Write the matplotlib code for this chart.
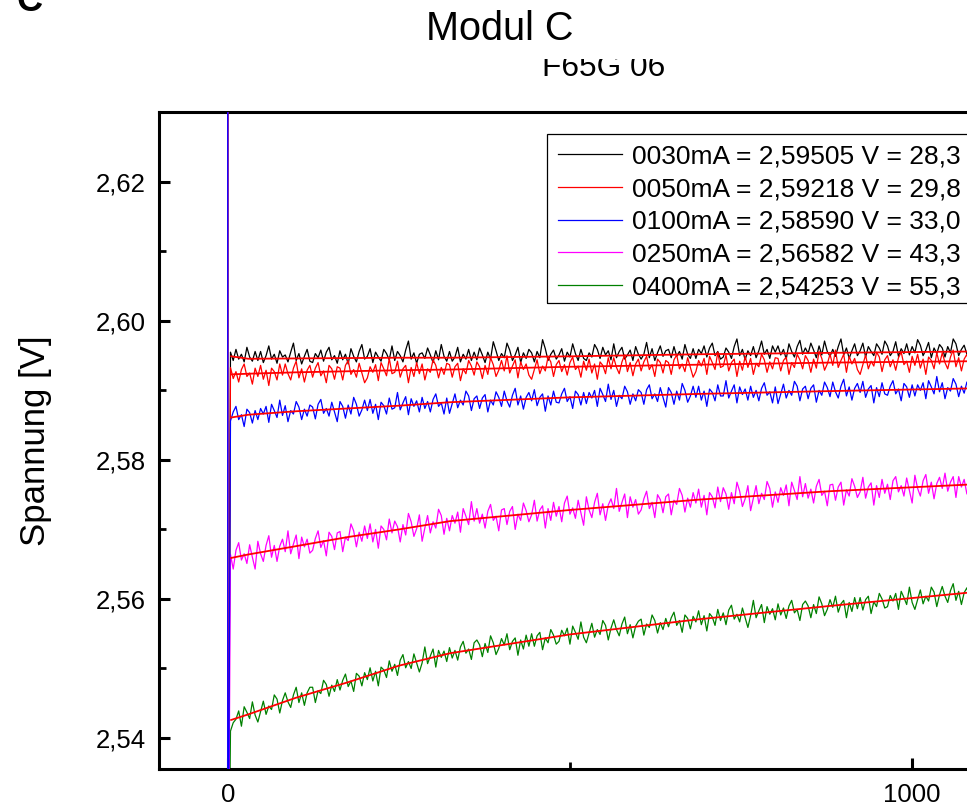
import numpy as np
import matplotlib
matplotlib.use("Agg")
import matplotlib.pyplot as plt
from matplotlib.patches import Rectangle
from matplotlib.transforms import Bbox, TransformedBbox
from matplotlib.ticker import MultipleLocator, FuncFormatter

plt.rcParams['font.family'] = ['Liberation Sans', 'DejaVu Sans']

# sample times of the traces [s]: 4, 8, 12, ... 1092
t_first, t_step = 4, 4

# readings in units of 0.1 mV above 2.5 V
v_0030 = [955, 943, 959, 945, 952, 941, 962, 948, 942, 956,
          943, 956, 940, 950, 964, 945, 952, 939, 957, 948,
          951, 941, 955, 968, 943, 953, 938, 949, 959, 942,
          940, 953, 947, 958, 942, 955, 962, 944, 950, 939,
          957, 944, 952, 938, 960, 949, 941, 956, 966, 945,
          949, 960, 940, 955, 948, 942, 959, 953, 944, 964,
          943, 956, 950, 941, 958, 971, 945, 954, 939, 952,
          954, 946, 961, 951, 940, 957, 944, 966, 949, 942,
          956, 942, 948, 962, 941, 952, 945, 959, 943, 955,
          944, 961, 951, 940, 955, 945, 970, 957, 943, 953,
          947, 968, 958, 943, 951, 962, 940, 954, 946, 959,
          954, 941, 956, 947, 973, 960, 943, 952, 958, 945,
          951, 960, 942, 955, 948, 967, 953, 943, 959, 946,
          943, 954, 948, 966, 959, 946, 962, 951, 957, 944,
          967, 947, 956, 962, 945, 951, 958, 943, 963, 952,
          945, 952, 969, 947, 960, 943, 954, 964, 949, 957,
          959, 947, 963, 949, 956, 945, 966, 952, 946, 960,
          946, 959, 953, 964, 948, 961, 968, 950, 956, 945,
          948, 961, 955, 946, 963, 974, 950, 959, 944, 957,
          950, 963, 947, 957, 971, 952, 959, 946, 964, 955,
          964, 951, 959, 945, 967, 956, 948, 963, 972, 952,
          961, 953, 968, 958, 947, 964, 951, 971, 956, 949,
          959, 949, 963, 974, 951, 961, 946, 957, 967, 950,
          957, 968, 948, 963, 956, 950, 967, 961, 952, 971,
          964, 950, 956, 970, 949, 960, 953, 967, 951, 963,
          954, 973, 965, 950, 958, 969, 947, 961, 953, 966,
          961, 948, 963, 954, 974, 967, 950, 959, 965, 952,
          962, 954, 966]
v_0050 = [933, 917, 927, 912, 930, 938, 920, 925, 909, 932,
          920, 936, 916, 929, 907, 932, 927, 915, 938, 922,
          938, 924, 915, 932, 942, 918, 931, 912, 929, 936,
          919, 932, 940, 921, 928, 911, 936, 931, 916, 934,
          932, 915, 936, 943, 923, 930, 919, 939, 925, 911,
          918, 934, 926, 937, 914, 940, 931, 921, 946, 924,
          926, 942, 919, 931, 936, 911, 933, 920, 940, 924,
          938, 915, 931, 926, 944, 936, 918, 933, 923, 939,
          937, 919, 934, 939, 914, 931, 924, 943, 935, 922,
          941, 934, 917, 936, 923, 947, 937, 920, 929, 943,
          928, 950, 925, 935, 944, 918, 941, 930, 938, 922,
          916, 930, 944, 924, 935, 928, 948, 941, 920, 937,
          943, 927, 937, 922, 940, 948, 930, 935, 919, 942,
          929, 945, 925, 938, 916, 941, 936, 924, 947, 931,
          947, 933, 924, 941, 951, 927, 940, 921, 938, 945,
          928, 941, 949, 930, 937, 920, 945, 940, 925, 943,
          940, 923, 944, 951, 931, 938, 927, 947, 933, 919,
          927, 943, 935, 946, 923, 949, 940, 930, 955, 933,
          935, 951, 928, 940, 945, 920, 942, 929, 949, 933,
          946, 923, 939, 934, 952, 944, 926, 941, 931, 947,
          946, 928, 943, 948, 923, 940, 933, 952, 944, 931,
          950, 943, 926, 945, 932, 956, 946, 929, 938, 952,
          936, 958, 933, 943, 952, 926, 949, 938, 946, 930,
          923, 937, 951, 931, 942, 935, 955, 948, 927, 944,
          950, 934, 944, 929, 947, 955, 937, 942, 926, 949,
          936, 952, 932, 945, 923, 948, 943, 931, 954, 938,
          954, 940, 931, 948, 958, 934, 947, 928, 945, 952,
          935, 949, 939]
v_0100 = [856, 869, 877, 858, 865, 848, 873, 868, 853, 871,
          858, 874, 866, 877, 854, 880, 871, 861, 886, 864,
          878, 855, 871, 866, 884, 876, 858, 873, 863, 879,
          876, 859, 880, 887, 867, 874, 863, 883, 869, 855,
          884, 877, 860, 879, 866, 890, 880, 863, 872, 886,
          871, 887, 867, 880, 858, 883, 878, 866, 889, 873,
          875, 897, 872, 882, 891, 865, 888, 877, 885, 869,
          890, 874, 884, 869, 887, 895, 877, 882, 866, 889,
          867, 881, 895, 875, 886, 879, 899, 892, 871, 888,
          892, 874, 889, 894, 869, 886, 879, 898, 890, 877,
          899, 885, 876, 893, 903, 879, 892, 873, 890, 897,
          885, 901, 878, 890, 895, 870, 892, 879, 899, 883,
          882, 895, 903, 884, 891, 874, 899, 894, 879, 897,
          881, 897, 889, 900, 877, 903, 894, 884, 909, 887,
          900, 877, 893, 888, 906, 898, 880, 895, 885, 901,
          897, 880, 901, 908, 888, 895, 884, 904, 890, 876,
          904, 897, 880, 899, 886, 910, 900, 883, 892, 906,
          890, 906, 886, 899, 877, 902, 897, 885, 908, 892,
          892, 914, 889, 899, 908, 882, 905, 894, 902, 886,
          906, 890, 900, 885, 903, 911, 893, 898, 882, 905,
          881, 895, 909, 889, 900, 893, 913, 906, 885, 902,
          906, 888, 903, 908, 883, 900, 893, 912, 904, 891,
          912, 898, 889, 906, 916, 892, 905, 886, 903, 910,
          897, 913, 890, 902, 907, 882, 904, 891, 911, 895,
          893, 906, 914, 895, 902, 885, 910, 905, 890, 908,
          892, 908, 900, 911, 888, 914, 905, 895, 920, 898,
          911, 888, 904, 899, 917, 909, 891, 906, 896, 912,
          898, 909, 901]
v_0250 = [664, 643, 670, 681, 656, 665, 651, 678, 660, 643,
          683, 665, 654, 677, 691, 660, 677, 654, 676, 686,
          668, 698, 665, 679, 692, 658, 689, 675, 686, 666,
          670, 687, 698, 674, 684, 662, 696, 690, 671, 695,
          697, 668, 689, 684, 708, 698, 675, 696, 683, 705,
          687, 708, 682, 700, 673, 705, 700, 685, 715, 695,
          712, 704, 682, 707, 692, 723, 711, 690, 701, 721,
          683, 702, 720, 695, 711, 702, 729, 720, 693, 716,
          698, 720, 709, 725, 696, 730, 719, 707, 740, 712,
          730, 709, 722, 702, 726, 736, 713, 719, 698, 728,
          730, 707, 726, 733, 700, 722, 713, 738, 727, 711,
          721, 742, 712, 728, 734, 702, 730, 713, 739, 719,
          733, 711, 738, 748, 722, 731, 716, 742, 724, 706,
          747, 728, 717, 739, 752, 721, 737, 713, 735, 744,
          730, 759, 726, 739, 751, 717, 747, 732, 743, 722,
          728, 744, 755, 730, 739, 717, 750, 743, 724, 747,
          751, 721, 742, 736, 759, 749, 725, 745, 732, 753,
          738, 758, 732, 749, 721, 753, 747, 731, 761, 740,
          760, 751, 729, 753, 737, 768, 755, 733, 744, 763,
          727, 745, 763, 737, 752, 743, 769, 759, 732, 754,
          739, 760, 749, 764, 734, 768, 756, 743, 776, 747,
          766, 745, 758, 738, 762, 772, 749, 755, 734, 764,
          765, 742, 761, 768, 735, 757, 748, 773, 762, 746,
          754, 775, 745, 761, 767, 735, 763, 746, 772, 752,
          765, 743, 770, 776, 754, 763, 748, 774, 756, 738,
          778, 759, 748, 770, 779, 752, 768, 744, 766, 775,
          759, 781, 755, 768, 776, 746, 776, 761, 772, 751,
          770, 758, 773]
v_0400 = [410, 422, 427, 439, 417, 445, 437, 428, 452, 433,
          423, 438, 453, 434, 446, 441, 462, 456, 436, 454,
          465, 452, 444, 462, 473, 451, 465, 447, 465, 473,
          473, 451, 468, 464, 483, 477, 460, 476, 467, 484,
          469, 483, 492, 474, 482, 467, 493, 489, 475, 494,
          484, 501, 482, 496, 475, 502, 498, 487, 511, 496,
          506, 490, 512, 520, 501, 510, 500, 521, 508, 495,
          508, 531, 507, 518, 528, 502, 526, 516, 525, 510,
          530, 515, 526, 512, 531, 539, 522, 528, 513, 537,
          541, 534, 517, 536, 523, 547, 537, 520, 529, 543,
          534, 550, 527, 539, 544, 519, 541, 528, 548, 532,
          550, 532, 547, 552, 527, 544, 537, 556, 548, 535,
          539, 555, 547, 558, 535, 561, 552, 542, 567, 545,
          537, 551, 565, 545, 556, 549, 569, 562, 541, 558,
          570, 556, 547, 564, 574, 550, 563, 544, 561, 568,
          571, 548, 564, 559, 577, 569, 551, 566, 556, 572,
          560, 573, 581, 562, 569, 552, 577, 572, 557, 575,
          567, 583, 563, 576, 554, 579, 574, 562, 585, 569,
          580, 563, 584, 591, 571, 578, 567, 587, 573, 559,
          576, 598, 573, 583, 592, 566, 589, 578, 586, 570,
          593, 577, 587, 572, 590, 598, 580, 585, 569, 592,
          597, 590, 573, 592, 579, 603, 593, 576, 585, 599,
          588, 604, 581, 593, 598, 573, 595, 582, 602, 586,
          602, 584, 599, 604, 579, 596, 589, 608, 600, 587,
          589, 605, 597, 608, 585, 611, 602, 592, 617, 595,
          585, 599, 613, 593, 604, 597, 617, 610, 589, 606,
          618, 604, 595, 612, 622, 598, 611, 592, 609, 616,
          602, 614, 606]

# switch-on transient at t = 0 (leaves the plotted range) [V]
spike_v = [2.70, 2.50]

# fitted curves (red), same units
fit_t = [5, 30, 100, 175, 250, 325, 500, 690, 880, 1092]
fit_0030 = [949, 945.5, 946, 946.5, 947, 947, 949, 952, 954, 956]
fit_0050 = [923, 924, 926, 927.5, 929, 930, 934, 937, 940, 942]
fit_0100 = [861, 865, 870, 874, 878, 883, 890, 895, 899, 903]
fit_0250 = [659, 664, 676, 689, 700, 712, 728, 743, 755, 765]
fit_0400 = [426, 434, 458, 480, 504, 522, 549, 571, 590, 610]

labels = ["0030mA = 2,59505 V = 28,3",
          "0050mA = 2,59218 V = 29,8",
          "0100mA = 2,58590 V = 33,0",
          "0250mA = 2,56582 V = 43,3",
          "0400mA = 2,54253 V = 55,3"]
colors = ["#000000", "#ff0000", "#0000ff", "#ff00ff", "#008000"]
zorders = [2, 3, 5, 4, 2.5]

traces = [v_0030, v_0050, v_0100, v_0250, v_0400]
fits = [fit_0030, fit_0050, fit_0100, fit_0250, fit_0400]


def volts(vals):
    return 2.5 + np.asarray(vals, dtype=float) / 1e4


W, H = 967, 806
fig = plt.figure(figsize=(W / 100, H / 100), dpi=100)
ax = fig.add_axes([159.3 / W, 1 - 769.3 / H, 1300 * 0.6844 / W, 657.0 / H])

handles = []
for vals, lab, col, z in zip(traces, labels, colors, zorders):
    t = t_first + t_step * np.arange(len(vals))
    tt = np.r_[0, 0, t]
    vv = np.r_[spike_v, volts(vals)]
    h, = ax.plot(tt, vv, color=col, lw=0.9, zorder=z, label=lab)
    handles.append(h)

for f in fits:
    ax.plot(fit_t, volts(f), color="#ff0000", lw=1.3, zorder=6)

ax.set_xlim(-100, 1200)
ax.set_ylim(2.5355, 2.6300)

ax.xaxis.set_major_locator(MultipleLocator(1000))
ax.xaxis.set_minor_locator(MultipleLocator(500))
ax.yaxis.set_major_locator(MultipleLocator(0.02))
ax.yaxis.set_minor_locator(MultipleLocator(0.01))
ax.yaxis.set_major_formatter(FuncFormatter(lambda v, p: f"{v:.2f}".replace(".", ",")))
ax.xaxis.set_major_formatter(FuncFormatter(lambda v, p: f"{v:.0f}"))

ax.tick_params(which="both", direction="in", top=False, right=False,
               labelsize=18.5, pad=10, color="black")
ax.tick_params(which="major", length=8, width=2.2)
ax.tick_params(which="minor", length=5, width=2.0)
for s in ax.spines.values():
    s.set_linewidth(2.2)

ax.set_ylabel("Spannung [V]", fontsize=25, labelpad=31)

# legend without its own frame; the box runs past the right edge as in the original
leg = ax.legend(handles=handles, loc="upper left",
                bbox_to_anchor=(547 / W, 1 - 134 / H), bbox_transform=fig.transFigure,
                borderaxespad=0, fontsize=19, frameon=False, labelspacing=0.33,
                handlelength=2.46, handletextpad=0.36, borderpad=0.4)
leg.set_zorder(10)
fig.add_artist(Rectangle((547 / W, 1 - 303 / H), 500 / W, 169 / H,
                         transform=fig.transFigure, fill=False,
                         edgecolor="black", lw=0.9, zorder=3))

fig.text(499.7 / W, 1 - 40 / H, "Modul C", fontsize=28.5, ha="center", va="baseline")
sub = fig.text(604 / W, 1 - 76 / H, "F65G 06", fontsize=22.8, ha="center", va="baseline")
sub.set_clip_box(TransformedBbox(Bbox([[0, 0], [1, 1 - 59.3 / H]]), fig.transFigure))
sub.set_clip_on(True)
fig.text(16 / W, 1 - 11 / H, "C", fontsize=26, fontweight="bold", ha="left", va="baseline")

fig.savefig("out.png", dpi=100)
